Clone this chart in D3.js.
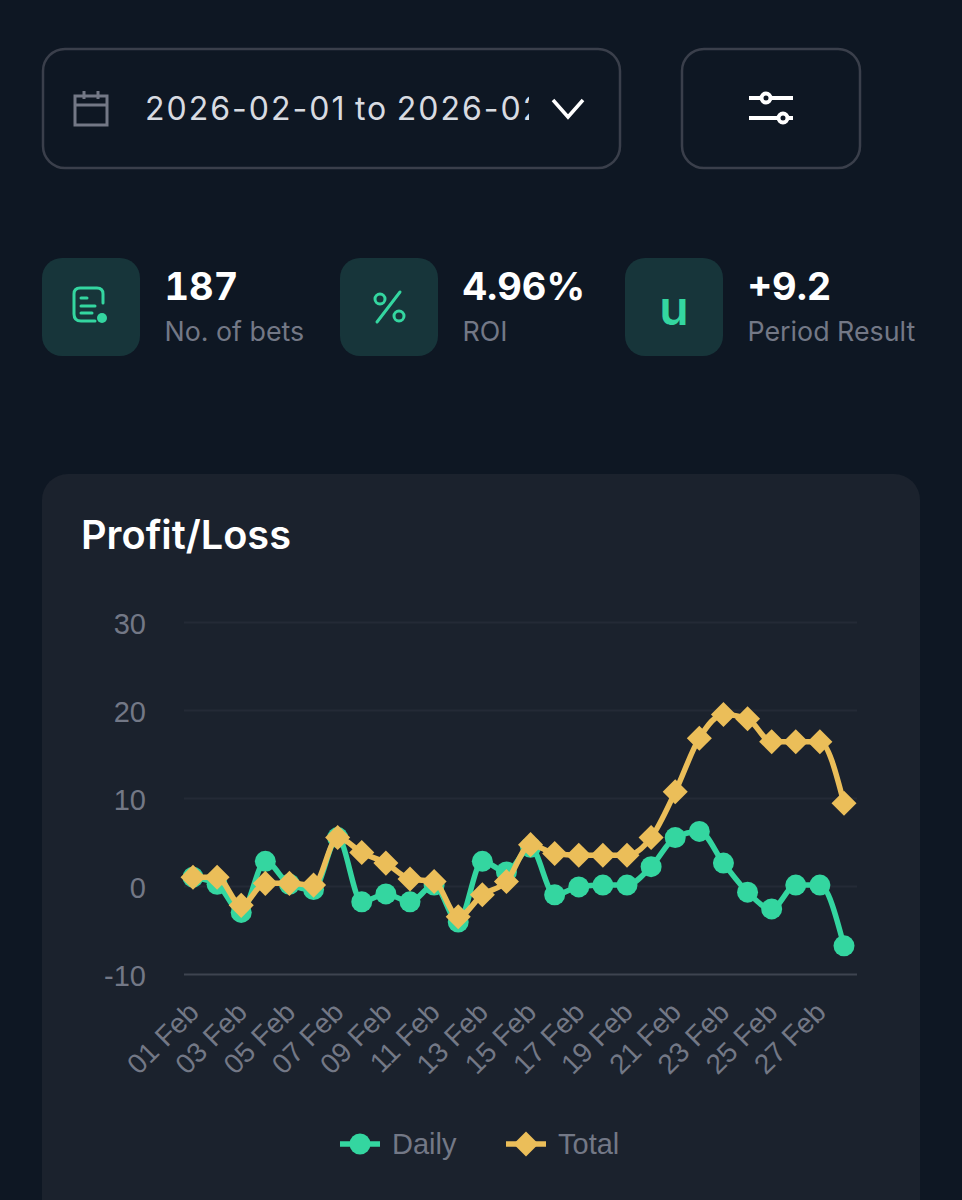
<!DOCTYPE html>
<html>
<head>
<meta charset="utf-8">
<script src="https://cdn.jsdelivr.net/npm/d3@7"></script>
<style>
  html, body { margin: 0; padding: 0; background: #0e1723; overflow: hidden; }
  svg { display: block; }
</style>
</head>
<body>
<svg id="page" width="962" height="1200"></svg>
<script>
// chart values
const days = ["01 Feb","02 Feb","03 Feb","04 Feb","05 Feb","06 Feb","07 Feb","08 Feb","09 Feb","10 Feb",
  "11 Feb","12 Feb","13 Feb","14 Feb","15 Feb","16 Feb","17 Feb","18 Feb","19 Feb","20 Feb",
  "21 Feb","22 Feb","23 Feb","24 Feb","25 Feb","26 Feb","27 Feb","28 Feb"];
const daily = [1.0,0.2,-3.0,2.8,0.2,-0.4,5.5,-1.8,-0.9,-1.8,0.1,-4.1,2.8,1.6,4.4,-1.0,-0.1,0.1,0.1,2.2,5.5,6.2,2.6,-0.7,-2.6,0.1,0.1,-6.8];
const total = [1.0,1.0,-2.2,0.3,0.3,0.1,5.5,3.8,2.6,0.8,0.5,-3.5,-1.0,0.5,4.7,3.7,3.5,3.5,3.5,5.5,10.7,16.8,19.5,19.0,16.4,16.4,16.4,9.4];
const yTicks = [-10,0,10,20,30];
const stats = [["187","No. of bets"],["4.96%","ROI"],["+9.2","Period Result"]];
const statX = [42,340,625];
const legendNames = ["Daily","Total"];

const green = "#34d6a0", yellow = "#ebbe59", grey = "#737886";
const uiFont = "Inter, 'Noto Sans', sans-serif";
const chartFont = "'Liberation Sans', Arial, sans-serif";

const svg = d3.select("#page");

// ---- date picker and filter button
svg.append("rect").attr("x",43).attr("y",49).attr("width",577).attr("height",119).attr("rx",22)
  .attr("fill","none").attr("stroke","#3a3f4b").attr("stroke-width",2.5);
svg.append("rect").attr("x",682).attr("y",49).attr("width",178).attr("height",119).attr("rx",22)
  .attr("fill","none").attr("stroke","#3a3f4b").attr("stroke-width",2.5);

// calendar icon
const cal = svg.append("g").attr("fill","none").attr("stroke",grey).attr("stroke-width",3);
cal.append("rect").attr("x",75).attr("y",96).attr("width",32).attr("height",29);
cal.append("path").attr("d","M75 105H107M84 91V99M98 91V99");

svg.append("clipPath").attr("id","dateClip").append("rect")
  .attr("x",140).attr("y",80).attr("width",389).attr("height",60);
svg.append("text").attr("x",145).attr("y",120).attr("clip-path","url(#dateClip)")
  .attr("fill","#d8dbe1").attr("font-family",uiFont).attr("font-size",32)
  .attr("letter-spacing",2).attr("word-spacing",-2.5)
  .text("2026-02-01 to 2026-02-28");

// chevron
svg.append("path").attr("d","M553 100L568 117L583 100").attr("fill","none")
  .attr("stroke","#fff").attr("stroke-width",3.5);

// sliders icon
const sl = svg.append("g").attr("stroke","#fff").attr("stroke-width",4).attr("fill","#0e1723");
sl.append("path").attr("d","M749 98H793M749 118H793");
sl.append("circle").attr("cx",766).attr("cy",98).attr("r",4.5);
sl.append("circle").attr("cx",783).attr("cy",118).attr("r",4.5);

// ---- stat tiles
stats.forEach(function(s, i) {
  const x = statX[i];
  svg.append("rect").attr("x",x).attr("y",258).attr("width",98).attr("height",98).attr("rx",20).attr("fill","#17353a");
  svg.append("text").attr("x",x+122.5).attr("y",300).attr("fill","#fff").attr("font-family",uiFont)
    .attr("font-weight",700).attr("font-size",38).style("font-variant-numeric","tabular-nums").text(s[0]);
  svg.append("text").attr("x",x+122.5).attr("y",341).attr("fill",grey).attr("font-family",uiFont)
    .attr("font-size",26.8).text(s[1]);
});

// receipt icon
const doc = svg.append("g").attr("fill","none").attr("stroke",green).attr("stroke-width",3).attr("stroke-linecap","round");
doc.append("path").attr("d","M103 303V294Q103 288 97 288H80Q74 288 74 294V314Q74 321 81 321H95");
doc.append("path").attr("d","M81 298H87M81 306H95M81 313H92");
svg.append("circle").attr("cx",102).attr("cy",318).attr("r",5).attr("fill",green);

// percent icon
const pct = svg.append("g").attr("fill","none").attr("stroke",green).attr("stroke-width",3);
pct.append("path").attr("d","M400 292L377 322").attr("stroke-linecap","round");
pct.append("circle").attr("cx",380).attr("cy",299).attr("r",5);
pct.append("circle").attr("cx",399).attr("cy",316).attr("r",5);

svg.append("text").attr("x",674).attr("y",325).attr("text-anchor","middle").attr("fill",green)
  .attr("font-family",uiFont).attr("font-weight",600).attr("font-size",48).text("u");

// ---- chart card
svg.append("rect").attr("x",42).attr("y",474).attr("width",878).attr("height",760).attr("rx",26).attr("fill","#1b222d");
svg.append("text").attr("x",81).attr("y",549).attr("fill","#fff").attr("font-family",uiFont)
  .attr("font-weight",600).attr("font-size",39.7).text("Profit/Loss");

const x = d3.scalePoint().domain(days).range([193,844]);
const y = d3.scaleLinear().domain([-10,30]).range([974,622]);

// gridlines + y labels
const yAxis = svg.append("g").attr("transform","translate(184,0)")
  .call(d3.axisLeft(y).tickValues(yTicks).tickFormat(d => String(d)).tickSize(-673).tickPadding(38));
yAxis.select(".domain").remove();
yAxis.selectAll("line").attr("stroke",d => d === -10 ? "#3e4450" : "#242a36").attr("stroke-width",2);
yAxis.selectAll("text").attr("fill",grey).attr("font-family",chartFont).attr("font-size",29).attr("dy","0.39em");

// x labels, every second day
const xAxis = svg.append("g").attr("transform","translate(0,974)")
  .call(d3.axisBottom(x).tickValues(days.filter((d,i) => i % 2 === 0)).tickSize(0));
xAxis.select(".domain").remove();
xAxis.selectAll("text").attr("fill",grey).attr("font-family",chartFont).attr("font-size",28)
  .attr("text-anchor","end").attr("dy",0).attr("y",0)
  .attr("transform","translate(7,40) rotate(-45)");

// series
const line = d3.line().x((d,i) => x(days[i])).y(d => y(d)).curve(d3.curveMonotoneX);
const diamond = d3.symbol().type(d3.symbolDiamond2).size(400);

svg.append("path").datum(daily).attr("d",line).attr("fill","none").attr("stroke",green).attr("stroke-width",5.5);
svg.append("g").selectAll("circle").data(daily).join("circle")
  .attr("cx",(d,i) => x(days[i])).attr("cy",d => y(d)).attr("r",10.5).attr("fill",green);

svg.append("path").datum(total).attr("d",line).attr("fill","none").attr("stroke",yellow).attr("stroke-width",5.5);
svg.append("g").selectAll("path").data(total).join("path")
  .attr("d",diamond).attr("transform",(d,i) => "translate(" + x(days[i]) + "," + y(d) + ")").attr("fill",yellow);

// legend
const legend = svg.append("g").selectAll("g").data(legendNames).join("g")
  .attr("transform",(d,i) => "translate(" + (i === 0 ? 340 : 506) + ",1144)");
legend.append("line").attr("x1",0).attr("x2",40).attr("stroke",(d,i) => i === 0 ? green : yellow).attr("stroke-width",5.5);
legend.filter((d,i) => i === 0).append("circle").attr("cx",20).attr("r",10.5).attr("fill",green);
legend.filter((d,i) => i === 1).append("path").attr("d",diamond).attr("transform","translate(20,0)").attr("fill",yellow);
legend.append("text").attr("x",52).attr("y",10).attr("fill",grey)
  .attr("font-family",chartFont).attr("font-size",29).text(d => d);
</script>
</body>
</html>
